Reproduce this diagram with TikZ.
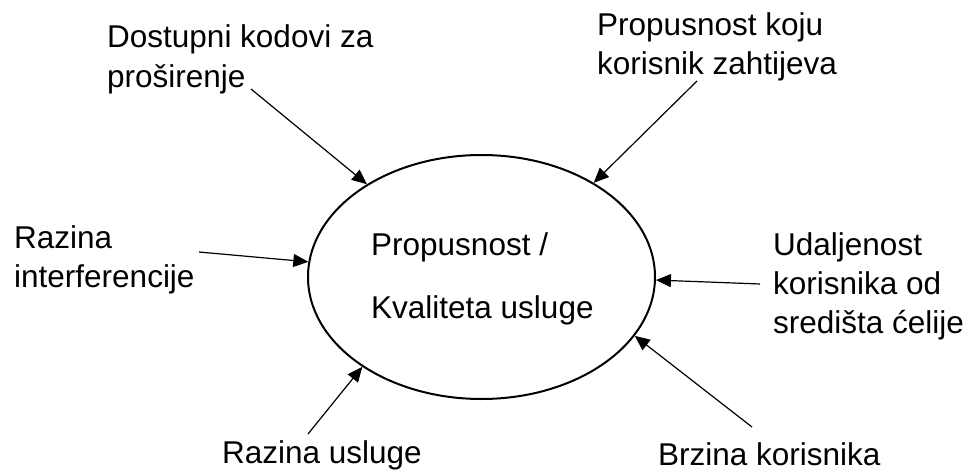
\documentclass[tikz,border=0pt]{standalone}
\usepackage{fontspec}
\setmainfont{Liberation Sans}
\usetikzlibrary{shapes.geometric,arrows.meta}
\tikzset{
  lbl/.style={anchor=base west, align=left, inner sep=0pt, font=\fontsize{31.5}{39}\selectfont},
  inarrow/.style={line width=1.2pt, -{Triangle[length=15pt,width=13pt]}},
  centre/.style={draw, ellipse, line width=2pt, minimum width=347pt, minimum height=244pt,
    inner sep=0pt}
}
\begin{document}
\begin{tikzpicture}[x=1pt,y=-1pt]
\useasboundingbox (0,0) rectangle (968,470);
\node[centre] (e) at (481.5,277) {};
\node[lbl, font=\fontsize{31.5}{63}\selectfont] (c) at (371,318) {Propusnost /\\Kvaliteta usluge};
\node[lbl, font=\fontsize{31.5}{40}\selectfont] (t1) at (107,88) {Dostupni kodovi za\\proširenje};
\node[lbl] (t2) at (597,75) {Propusnost koju\\korisnik zahtijeva};
\node[lbl] (t3) at (14,287) {Razina\\interferencije};
\node[lbl] (t4) at (773,333) {Udaljenost\\korisnika od\\središta ćelije};
\node[lbl] (t5) at (222,463) {Razina usluge};
\node[lbl] (t6) at (658,465) {Brzina korisnika};
\coordinate (s1) at (251,89);
\coordinate (s2) at (697,81);
\coordinate (s3) at (199,252);
\coordinate (s4) at (760,284);
\coordinate (s5) at (308,434);
\coordinate (s6) at (752,427);
\draw[inarrow] (s1) -- (e.141);
\draw[inarrow] (s2) -- (e.40);
\draw[inarrow] (s3) -- (e.175);
\draw[inarrow] (s4) -- (e.-1);
\draw[inarrow] (s5) -- (e.217);
\draw[inarrow] (s6) -- (e.339);
\end{tikzpicture}
\end{document}
